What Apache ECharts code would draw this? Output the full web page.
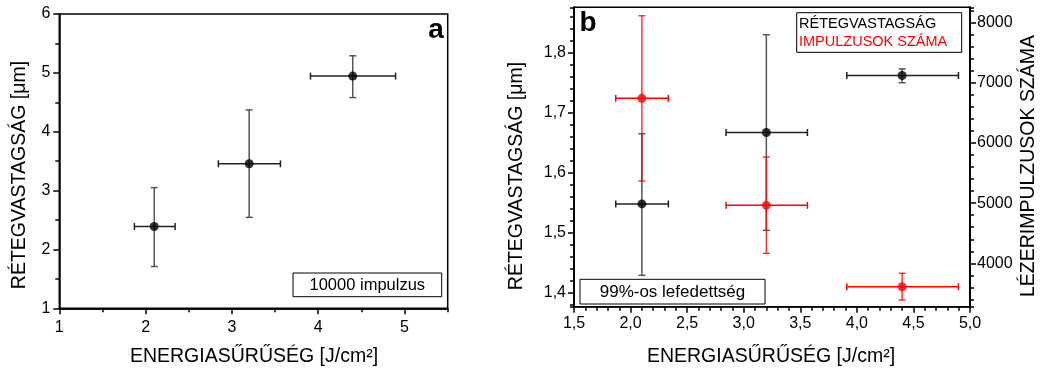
<!DOCTYPE html>
<html>
<head>
<meta charset="utf-8">
<script src="https://cdn.jsdelivr.net/npm/echarts@6/dist/echarts.min.js"></script>
<style>html,body{margin:0;padding:0;background:#fff;}#c{width:1043px;height:371px;}</style>
</head>
<body>
<div id="c"></div>
<script>
// ---- Panel a data ----
const aX = [2.1, 3.2, 4.4];
const aXLow = [1.87, 2.843, 3.91];
const aXHigh = [2.342, 3.562, 4.896];
const aY = [2.39, 3.455, 4.945];
const aYLow = [1.71, 2.545, 4.58];
const aYHigh = [3.05, 4.37, 5.29];

// ---- Panel b data ----
const bX = [2.1, 3.2, 4.4];
const bXLow = [1.869, 2.844, 3.911];
const bXHigh = [2.334, 3.563, 4.898];
const thick = [1.548, 1.667, 1.762];
const thickLow = [1.429, 1.504, 1.750];
const thickHigh = [1.665, 1.830, 1.773];
const pulses = [6743, 4964, 3611];
const pulsesLow = [5368, 4166, 3390];
const pulsesHigh = [8116, 5767, 3834];

const FONT = 'Liberation Sans, Arial, sans-serif';

function rows(x, xl, xh, y, yl, yh) {
  return x.map((v, i) => [v, y[i], xl[i], xh[i], yl[i], yh[i]]);
}

function errRender(color, vColor) {
  return function (params, api) {
    const x = api.value(0), y = api.value(1);
    const xl = api.coord([api.value(2), y]);
    const xh = api.coord([api.value(3), y]);
    const yl = api.coord([x, api.value(4)]);
    const yh = api.coord([x, api.value(5)]);
    const cap = 3.5;
    const hs = { stroke: color, lineWidth: 1.5 };
    const vs = { stroke: vColor, lineWidth: 1.5 };
    return {
      type: 'group',
      children: [
        { type: 'line', shape: { x1: yl[0], y1: yl[1], x2: yh[0], y2: yh[1] }, style: vs },
        { type: 'line', shape: { x1: yl[0] - cap, y1: yl[1], x2: yl[0] + cap, y2: yl[1] }, style: vs },
        { type: 'line', shape: { x1: yh[0] - cap, y1: yh[1], x2: yh[0] + cap, y2: yh[1] }, style: vs },
        { type: 'line', shape: { x1: xl[0], y1: xl[1], x2: xh[0], y2: xh[1] }, style: hs },
        { type: 'line', shape: { x1: xl[0], y1: xl[1] - cap, x2: xl[0], y2: xl[1] + cap }, style: hs },
        { type: 'line', shape: { x1: xh[0], y1: xh[1] - cap, x2: xh[0], y2: xh[1] + cap }, style: hs }
      ]
    };
  };
}

const lineStyle = { color: '#000', width: 1.5 };
const tickStyle = { color: '#000', width: 1.5 };
const MAJOR = 6, MINOR = 4;
const labelBase = { color: '#000', fontSize: 16, fontFamily: FONT };
const comma = v => v.toFixed(1).replace('.', ',');
const plain = v => String(Math.round(v));

// invisible helper series so that the tick-only axes have data
function ghost(xi, yi, xs, ys) {
  return { type: 'scatter', xAxisIndex: xi, yAxisIndex: yi, symbolSize: 0, silent: true,
    itemStyle: { opacity: 0 }, data: xs.map((v, i) => [v, ys[i]]), z: 0 };
}

const chart = echarts.init(document.getElementById('c'), null, { renderer: 'canvas' });
chart.setOption({
  animation: false,
  backgroundColor: '#fff',
  grid: [
    { left: 59.3, top: 14, width: 388.4, height: 294.3, show: true, borderColor: '#000', borderWidth: 1.5, containLabel: false },
    { left: 574, top: 7.3, width: 396, height: 299.4, show: true, borderColor: '#000', borderWidth: 1.5, containLabel: false }
  ],
  xAxis: [
    { type: 'value', gridIndex: 0, min: 1, max: 5.5, interval: 1, position: 'bottom',
      axisLine: { show: true, onZero: false, lineStyle }, axisTick: { show: true, length: MAJOR, lineStyle: tickStyle },
      axisLabel: Object.assign({ margin: 11, showMaxLabel: false, formatter: plain }, labelBase), splitLine: { show: false } },
    { type: 'value', gridIndex: 0, min: 1, max: 5.5, interval: 0.5, position: 'bottom',
      axisLine: { show: true, onZero: false, lineStyle }, axisTick: { show: true, length: MINOR, lineStyle: tickStyle },
      axisLabel: { show: false }, splitLine: { show: false } },
    { type: 'value', gridIndex: 1, min: 1.5, max: 5.0, interval: 0.5, position: 'bottom',
      axisLine: { show: true, onZero: false, lineStyle }, axisTick: { show: true, length: MAJOR, lineStyle: tickStyle },
      minorTick: { show: true, splitNumber: 5, length: MINOR, lineStyle: tickStyle },
      axisLabel: Object.assign({ margin: 9, formatter: comma }, labelBase), splitLine: { show: false }, minorSplitLine: { show: false } }
  ],
  yAxis: [
    { type: 'value', gridIndex: 0, min: 1, max: 6, interval: 1, position: 'left',
      axisLine: { show: true, onZero: false, lineStyle }, axisTick: { show: true, length: MAJOR, lineStyle: tickStyle },
      minorTick: { show: true, splitNumber: 2, length: MINOR, lineStyle: tickStyle },
      axisLabel: Object.assign({ margin: 9, formatter: plain }, labelBase), splitLine: { show: false }, minorSplitLine: { show: false } },
    { type: 'value', gridIndex: 1, min: 1.3767, max: 1.8757, minInterval: 0.1, maxInterval: 0.1, splitNumber: 5, position: 'left',
      axisLine: { show: true, onZero: false, lineStyle }, axisTick: { show: true, length: MAJOR, lineStyle: tickStyle },
      axisLabel: Object.assign({ margin: 8, showMinLabel: false, showMaxLabel: false, formatter: comma }, labelBase), splitLine: { show: false } },
    { type: 'value', gridIndex: 1, min: 1.3767, max: 1.8757, minInterval: 0.02, maxInterval: 0.02, splitNumber: 25, position: 'left',
      axisLine: { show: true, onZero: false, lineStyle }, axisTick: { show: true, length: MINOR, lineStyle: tickStyle },
      axisLabel: { show: false }, splitLine: { show: false } },
    { type: 'value', gridIndex: 1, min: 3279, max: 8256, minInterval: 1000, maxInterval: 1000, splitNumber: 5, position: 'right',
      axisLine: { show: true, onZero: false, lineStyle }, axisTick: { show: true, length: MAJOR, lineStyle: tickStyle },
      axisLabel: Object.assign({ margin: 7, showMinLabel: false, showMaxLabel: false, formatter: plain }, labelBase), splitLine: { show: false } },
    { type: 'value', gridIndex: 1, min: 3279, max: 8256, minInterval: 200, maxInterval: 200, splitNumber: 25, position: 'right',
      axisLine: { show: true, onZero: false, lineStyle }, axisTick: { show: true, length: MINOR, lineStyle: tickStyle },
      axisLabel: { show: false }, splitLine: { show: false } }
  ],
  series: [
    ghost(1, 0, aX, aY),
    ghost(2, 2, bX, thick),
    ghost(2, 4, bX, pulses),
    { type: 'custom', xAxisIndex: 0, yAxisIndex: 0, clip: false, renderItem: errRender('#222', '#555'),
      data: rows(aX, aXLow, aXHigh, aY, aYLow, aYHigh), encode: { x: 0, y: 1 }, z: 2 },
    { type: 'scatter', xAxisIndex: 0, yAxisIndex: 0, symbolSize: 9, itemStyle: { color: '#000' },
      data: aX.map((v, i) => [v, aY[i]]), z: 3 },
    { type: 'custom', xAxisIndex: 2, yAxisIndex: 1, clip: false, renderItem: errRender('#222', '#555'),
      data: rows(bX, bXLow, bXHigh, thick, thickLow, thickHigh), encode: { x: 0, y: 1 }, z: 2 },
    { type: 'custom', xAxisIndex: 2, yAxisIndex: 3, clip: false, renderItem: errRender('#ff0000', 'rgba(255,0,0,0.8)'),
      data: rows(bX, bXLow, bXHigh, pulses, pulsesLow, pulsesHigh), encode: { x: 0, y: 1 }, z: 2 },
    { type: 'scatter', xAxisIndex: 2, yAxisIndex: 1, symbolSize: 9, itemStyle: { color: '#000' },
      data: bX.map((v, i) => [v, thick[i]]), z: 3 },
    { type: 'scatter', xAxisIndex: 2, yAxisIndex: 3, symbolSize: 9, itemStyle: { color: '#ff0000' },
      data: bX.map((v, i) => [v, pulses[i]]), z: 3 }
  ],
  graphic: [
    { type: 'text', x: 20, y: 175, rotation: Math.PI / 2, style: { text: 'RÉTEGVASTAGSÁG [μm]', fontSize: 19.5, fontFamily: FONT, fill: '#000', align: 'center', verticalAlign: 'middle' } },
    { type: 'text', x: 254, y: 357, style: { text: 'ENERGIASŰRŰSÉG [J/cm²]', fontSize: 19.5, fontFamily: FONT, fill: '#000', align: 'center', verticalAlign: 'middle' } },
    { type: 'text', x: 517, y: 176, rotation: Math.PI / 2, style: { text: 'RÉTEGVASTAGSÁG [μm]', fontSize: 19.5, fontFamily: FONT, fill: '#000', align: 'center', verticalAlign: 'middle' } },
    { type: 'text', x: 1029, y: 166, rotation: Math.PI / 2, style: { text: 'LÉZERIMPULZUSOK SZÁMA', fontSize: 19.5, fontFamily: FONT, fill: '#000', align: 'center', verticalAlign: 'middle' } },
    { type: 'text', x: 771, y: 357, style: { text: 'ENERGIASŰRŰSÉG [J/cm²]', fontSize: 19.5, fontFamily: FONT, fill: '#000', align: 'center', verticalAlign: 'middle' } },
    { type: 'text', x: 436, y: 30, style: { text: 'a', fontSize: 28, fontWeight: 'bold', fontFamily: FONT, fill: '#000', align: 'center', verticalAlign: 'middle' } },
    { type: 'text', x: 588, y: 23, style: { text: 'b', fontSize: 28, fontWeight: 'bold', fontFamily: FONT, fill: '#000', align: 'center', verticalAlign: 'middle' } },
    { type: 'rect', shape: { x: 293, y: 273, width: 148.7, height: 23.7 }, style: { fill: '#fff', stroke: '#000', lineWidth: 1 } },
    { type: 'text', x: 367.3, y: 285, style: { text: '10000 impulzus', fontSize: 16.5, fontFamily: FONT, fill: '#000', align: 'center', verticalAlign: 'middle' } },
    { type: 'rect', shape: { x: 580, y: 279.3, width: 185, height: 24.7 }, style: { fill: '#fff', stroke: '#000', lineWidth: 1 } },
    { type: 'text', x: 672.5, y: 292, style: { text: '99%-os lefedettség', fontSize: 17, fontFamily: FONT, fill: '#000', align: 'center', verticalAlign: 'middle' } },
    { type: 'rect', shape: { x: 796.7, y: 12.7, width: 165, height: 39.6 }, style: { fill: '#fff', stroke: '#000', lineWidth: 1 } },
    { type: 'text', x: 799, y: 24, style: { text: 'RÉTEGVASTAGSÁG', fontSize: 14.5, fontFamily: FONT, fill: '#000', align: 'left', verticalAlign: 'middle' } },
    { type: 'text', x: 799, y: 42, style: { text: 'IMPULZUSOK SZÁMA', fontSize: 14.5, fontFamily: FONT, fill: '#ff0000', align: 'left', verticalAlign: 'middle' } }
  ]
});
</script>
</body>
</html>
